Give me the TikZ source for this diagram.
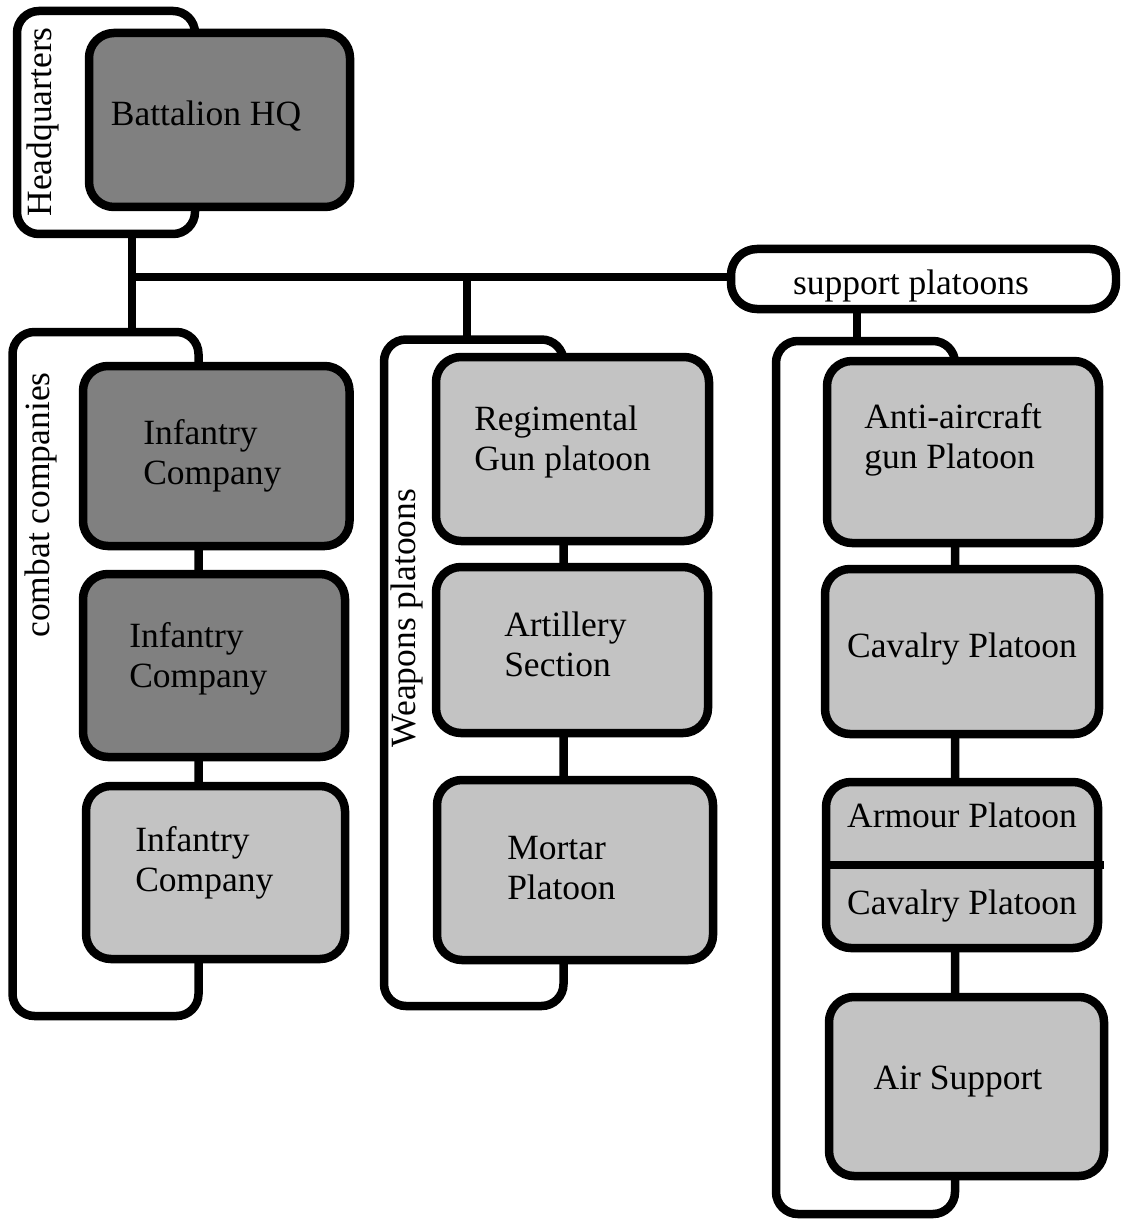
\documentclass[tikz,border=0pt]{standalone}
\usepackage{fontspec}
\setmainfont{Liberation Serif}
\definecolor{boxdark}{RGB}{128,128,128}
\definecolor{boxlight}{RGB}{195,195,195}
\begin{document}
\begin{tikzpicture}[x=1pt,y=-1pt,line width=8.5pt,
  brk/.style={draw, rectangle, rounded corners=22pt, inner sep=0pt, outer sep=0pt},
  unitbox/.style={draw, rectangle, rounded corners=25pt, inner sep=0pt, outer sep=0pt},
  darkbox/.style={unitbox, fill=boxdark},
  lightbox/.style={unitbox, fill=boxlight},
  lbl/.style={inner sep=0pt, align=left, text=black, font=\fontsize{35.5}{40}\selectfont}]
\useasboundingbox (0,0) rectangle (1120,1222);
\clip (0,0) rectangle (1120,1222);
% group brackets
\node[brk, minimum width=178pt, minimum height=223pt] (hqb) at (106,122.5) {};
\node[brk, minimum width=186pt, minimum height=684pt] (cb) at (105.5,674) {};
\node[brk, minimum width=179.5pt, minimum height=666.5pt] (wb) at (473.75,672.75) {};
\node[brk, minimum width=179pt, minimum height=873pt] (sb) at (865.5,777.5) {};
\node[draw, fill=white, rectangle, rounded corners=26pt, inner sep=0pt, outer sep=0pt,
      minimum width=385pt, minimum height=60pt] (sp) at (923.5,279) {};
% connectors
\coordinate (hx) at (132,277);
\coordinate (wx) at (467,277);
\coordinate (sx) at (857,0);
\draw (hqb.south -| hx) -- (cb.north -| hx);
\draw (hx) -- (sp.west |- hx);
\draw (wx) -- (wb.north -| wx);
\draw (sp.south -| sx) -- (sb.north -| sx);
% boxes
\node[darkbox, minimum width=261pt, minimum height=174pt] (bhq) at (219.5,120) {};
\node[darkbox, minimum width=266.5pt, minimum height=180pt] (inf1) at (216.25,456) {};
\node[darkbox, minimum width=262pt, minimum height=183pt] (inf2) at (214,665.5) {};
\node[lightbox, minimum width=259pt, minimum height=173pt] (inf3) at (215.5,872.5) {};
\node[lightbox, minimum width=273pt, minimum height=184pt] (reg) at (572.5,449) {};
\node[lightbox, minimum width=272pt, minimum height=166pt] (art) at (572,650) {};
\node[lightbox, minimum width=276pt, minimum height=180pt] (mor) at (575,870) {};
\node[lightbox, minimum width=272pt, minimum height=182pt] (aa) at (963,452) {};
\node[lightbox, minimum width=274pt, minimum height=165pt] (cav) at (962,651.5) {};
\node[lightbox, minimum width=272pt, minimum height=166pt] (arm) at (962,865) {};
\node[lightbox, minimum width=275pt, minimum height=179pt] (air) at (966.5,1086.5) {};
\coordinate (armdiv) at (1104,865);
\draw (arm.west) -- (armdiv);
% labels
\node[lbl] (tbhq) at (206,116) {Battalion HQ};
\node[lbl, rotate=90] (thq) at (43,122) {Headquarters};
\node[lbl, rotate=90] (tcc) at (41,505) {combat companies};
\node[lbl, rotate=90] (twp) at (407,618) {Weapons platoons};
\node[lbl] (tsp) at (911,286) {support platoons};
\node[lbl, anchor=west] (tinf1) at (139,456) {Infantry\\Company};
\node[lbl, anchor=west] (tinf2) at (125,659) {Infantry\\Company};
\node[lbl, anchor=west] (tinf3) at (131,863) {Infantry\\Company};
\node[lbl, anchor=west] (treg) at (470,442) {Regimental\\Gun platoon};
\node[lbl, anchor=west] (tart) at (500,644) {Artillery\\Section};
\node[lbl, anchor=west] (tmor) at (503,868) {Mortar\\Platoon};
\node[lbl, anchor=west] (taa) at (860,440) {Anti-aircraft\\gun Platoon};
\node[lbl] (tcav) at (962,649) {Cavalry Platoon};
\node[lbl] (tarm) at (962,815) {Armour Platoon};
\node[lbl] (tcav2) at (962,906) {Cavalry Platoon};
\node[lbl] (tair) at (958,1082) {Air Support};
\end{tikzpicture}
\end{document}
